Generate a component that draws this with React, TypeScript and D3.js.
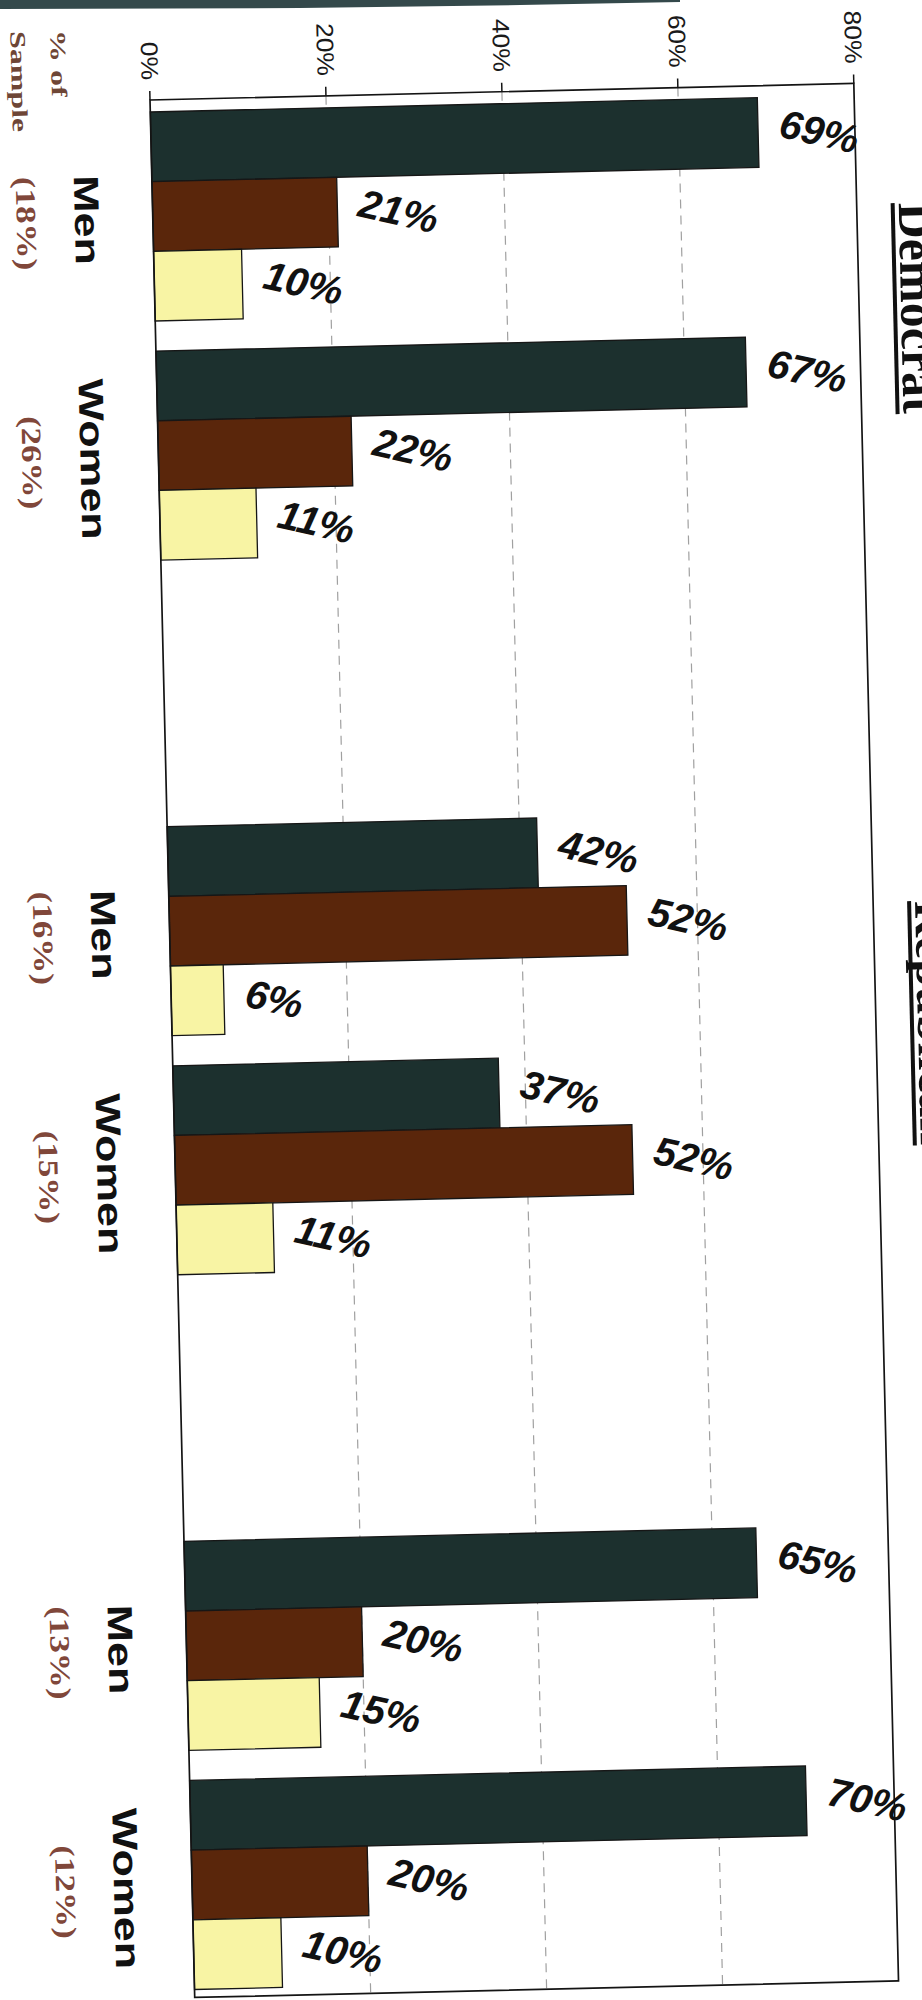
import React from 'react';
import * as d3 from 'd3';

// ---- data ----
const parties = ['Democrat', 'Republican', 'Independent'];
const genders = ['Men', 'Women'];
const seriesKeys = ['first', 'second', 'third'];
// order of subgroups: Dem Men, Dem Women, Rep Men, Rep Women, Ind Men, Ind Women
const firstValues = [69, 67, 42, 37, 65, 70];
const secondValues = [21, 22, 52, 52, 20, 20];
const thirdValues = [10, 11, 6, 11, 15, 10];
const sampleShares = ['(18%)', '(26%)', '(16%)', '(15%)', '(13%)', '(12%)'];
const tickValues = [0, 20, 40, 60, 80];
const gridValues = [20, 40, 60];
const axisTitleLines = ['% of', 'Sample'];

const seriesValues = [firstValues, secondValues, thirdValues];
const seriesColors = ['#1c302e', '#5a260b', '#f8f4a4'];

const SANS = '"Liberation Sans", Arial, sans-serif';
const SERIF = '"Liberation Serif", "Times New Roman", serif';

let _ctx: CanvasRenderingContext2D | null = null;
function measure(text: string, font: string): number {
  if (!_ctx) _ctx = document.createElement('canvas').getContext('2d');
  if (!_ctx) return text.length * 10;
  _ctx.font = font;
  return _ctx.measureText(text).width;
}

export default function App() {
  const OX = 150;
  const OY = 100;
  const ANGLE = -1.35;
  const plotH = 1898;

  const x = d3.scaleLinear().domain([0, 80]).range([0, 704]);
  const party = d3.scaleBand<string>().domain(parties).range([12, 1890]).paddingInner(0.373).paddingOuter(0);
  const gender = d3.scaleBand<string>().domain(genders).range([0, party.bandwidth()]).paddingInner(0.126).paddingOuter(0);
  const series = d3.scaleBand<string>().domain(seriesKeys).range([0, gender.bandwidth()]).padding(0);

  const groups: { p: string; g: string; idx: number; top: number }[] = [];
  parties.forEach((p, pi) => {
    genders.forEach((g, gi) => {
      groups.push({ p, g, idx: pi * 2 + gi, top: (party(p) as number) + (gender(g) as number) });
    });
  });

  const valueFontSize = 40;
  const valueFont = `italic bold ${valueFontSize}px ${SANS}`;
  const catFontSize = 35;
  const catFont = `bold ${catFontSize}px ${SANS}`;
  const shareFontSize = 28;
  const shareFont = `bold ${shareFontSize}px ${SERIF}`;
  const tickFontSize = 24;
  const tickFont = `${tickFontSize}px ${SANS}`;
  const axTitleSize = 22;
  const axTitleFont = `bold ${axTitleSize}px ${SERIF}`;
  const partyFontSize = 50;
  const partyFont = `bold ${partyFontSize}px ${SERIF}`;

  return (
    <svg width={922} height={2000} style={{ position: 'absolute', left: 0, top: 0, display: 'block', background: '#fff' }}>
      <rect x={0} y={0} width={922} height={2000} fill="#ffffff" />
      <polygon points="0,0 0,9 300,8 520,5 680,2 680,0" fill="#34494b" />
      <g transform={`translate(${OX},${OY}) rotate(${ANGLE})`}>
        {/* gridlines */}
        {gridValues.map((t) => (
          <line key={'g' + t} x1={x(t)} x2={x(t)} y1={0} y2={plotH} stroke="#a0a0a0" strokeWidth={1.2} strokeDasharray="9 7" />
        ))}
        {/* bars */}
        {groups.map((grp) =>
          seriesKeys.map((k, si) => {
            const v = seriesValues[si][grp.idx];
            const y0 = grp.top + (series(k) as number);
            return (
              <rect
                key={grp.idx + k}
                x={x(0)}
                y={y0}
                width={x(v) - x(0)}
                height={series.bandwidth()}
                fill={seriesColors[si]}
                stroke="#161616"
                strokeWidth={1.3}
              />
            );
          })
        )}
        {/* frame */}
        <rect x={0} y={0} width={x(80)} height={plotH} fill="none" stroke="#141414" strokeWidth={1.7} />
        {/* ticks */}
        {tickValues.map((t) => (
          <line key={'t' + t} x1={x(t)} x2={x(t)} y1={-9} y2={0} stroke="#141414" strokeWidth={1.5} />
        ))}
        {tickValues.map((t) => {
          const label = `${t}%`;
          const w = measure(label, tickFont) * 1.1;
          return (
            <text
              key={'tl' + t}
              transform={`translate(${x(t) - 8},${-20}) rotate(90)`}
              textAnchor="end"
              fontFamily={SANS}
              fontSize={tickFontSize}
              fill="#1a1a1a"
              textLength={w}
              lengthAdjust="spacingAndGlyphs"
            >
              {label}
            </text>
          );
        })}
        {/* value labels */}
        {groups.map((grp) =>
          seriesKeys.map((k, si) => {
            const v = seriesValues[si][grp.idx];
            const label = `${v}%`;
            const w = measure(label, valueFont);
            const capH = valueFontSize * 0.716;
            const bboxW = w * 0.97 + capH * 0.24;
            const cx = x(v) + 19 + bboxW / 2;
            const cy = grp.top + (series(k) as number) + series.bandwidth() / 2;
            return (
              <text
                key={'v' + grp.idx + k}
                transform={`translate(${cx},${cy}) rotate(14)`}
                y={capH / 2}
                textAnchor="middle"
                fontFamily={SANS}
                fontStyle="italic"
                fontWeight="bold"
                fontSize={valueFontSize}
                fill="#111"
              >
                {label}
              </text>
            );
          })
        )}
        {/* category labels */}
        {groups.map((grp) => {
          const cy = grp.top + gender.bandwidth() / 2 + 2;
          const w = measure(grp.g, catFont) * 1.28;
          return (
            <text
              key={'c' + grp.idx}
              transform={`translate(${-78},${cy}) rotate(90)`}
              textAnchor="middle"
              fontFamily={SANS}
              fontWeight="bold"
              fontSize={catFontSize}
              fill="#111"
              textLength={w}
              lengthAdjust="spacingAndGlyphs"
            >
              {grp.g}
            </text>
          );
        })}
        {/* sample shares */}
        {groups.map((grp) => {
          const cy = grp.top + gender.bandwidth() / 2 + 4;
          const label = sampleShares[grp.idx];
          const w = measure(label, shareFont) * 1.25;
          return (
            <text
              key={'s' + grp.idx}
              transform={`translate(${-136},${cy}) rotate(90)`}
              textAnchor="middle"
              fontFamily={SERIF}
              fontWeight="bold"
              fontSize={shareFontSize}
              fill="#80473a"
              textLength={w}
              lengthAdjust="spacingAndGlyphs"
            >
              {label}
            </text>
          );
        })}
        {/* axis title */}
        {axisTitleLines.map((line, i) => {
          const w = measure(line, axTitleFont) * 1.45;
          const u = i === 0 ? -98 : -138;
          return (
            <text
              key={'a' + i}
              transform={`translate(${u},${-72}) rotate(90)`}
              textAnchor="start"
              fontFamily={SERIF}
              fontWeight="bold"
              fontSize={axTitleSize}
              fill="#6e4636"
              textLength={w}
              lengthAdjust="spacingAndGlyphs"
            >
              {line}
            </text>
          );
        })}
        {/* party titles */}
        {parties.map((p) => {
          const cy = (party(p) as number) + party.bandwidth() / 2 - 10;
          const w = measure(p, partyFont);
          return (
            <g key={'p' + p} transform={`translate(${746},${cy}) rotate(90)`}>
              <text textAnchor="middle" fontFamily={SERIF} fontWeight="bold" fontSize={partyFontSize} fill="#111">
                {p}
              </text>
              <rect x={-w / 2} y={4} width={w} height={4} fill="#111" />
            </g>
          );
        })}
      </g>
    </svg>
  );
}
